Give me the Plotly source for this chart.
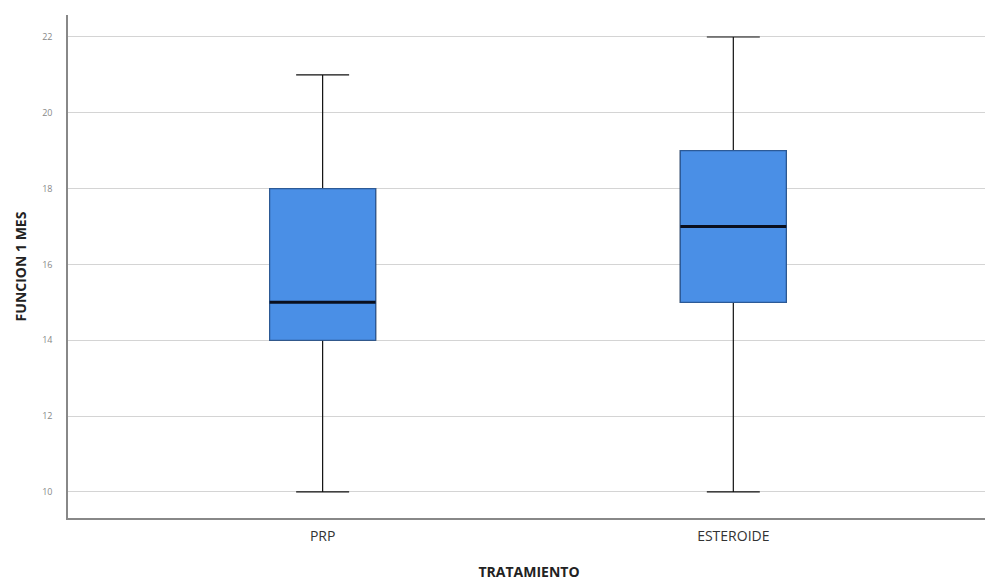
import plotly.graph_objects as go

categories = ["PRP", "ESTEROIDE"]
positions = [0, 1]
lower = [10, 10]
q1 = [14, 15]
median = [15, 17]
q3 = [18, 19]
upper = [21, 22]
y_ticks = [10, 12, 14, 16, 18, 20, 22]

box_w = 0.258

fig = go.Figure()

# whiskers (black)
fig.add_trace(go.Box(
    x=positions, q1=q1, median=median, q3=q3,
    lowerfence=lower, upperfence=upper,
    width=box_w, whiskerwidth=0.5,
    line=dict(color="#111111", width=1.2),
    fillcolor="rgba(0,0,0,0)", boxpoints=False, hoverinfo="skip",
    showlegend=False,
))
# box body (blue with dark blue outline)
fig.add_trace(go.Box(
    x=positions, q1=q1, median=median, q3=q3,
    lowerfence=q1, upperfence=q3,
    width=box_w, whiskerwidth=0,
    line=dict(color="#2c5a97", width=1.2),
    fillcolor="#4a8fe6", boxpoints=False,
    showlegend=False,
))
# median lines
for p, m in zip(positions, median):
    fig.add_trace(go.Scatter(
        x=[p - box_w / 2, p + box_w / 2], y=[m, m], mode="lines",
        line=dict(color="#0a0f1e", width=3), showlegend=False, hoverinfo="skip",
    ))

fig.update_layout(
    width=985, height=573,
    margin=dict(l=60, r=3, t=7, b=63, autoexpand=False),
    paper_bgcolor="white", plot_bgcolor="white",
    boxmode="overlay",
    font=dict(family="Open Sans, Lato, sans-serif", color="#333333"),
)
fig.update_xaxes(
    range=[-0.62, 1.625],
    tickvals=positions, ticktext=categories,
    tickfont=dict(size=14, color="#333333"),
    ticklabelstandoff=4,
    showgrid=False, zeroline=False,
    showline=True, linecolor="#888888", linewidth=1.5,
    ticks="", ticklen=0, automargin=False,
    title=dict(text="<b>TRATAMIENTO</b>", font=dict(size=14, color="#222222"), standoff=26),
)
fig.update_yaxes(
    range=[9.31, 22.58],
    tickvals=y_ticks,
    tickfont=dict(size=9, color="#888888"),
    ticklabelstandoff=12,
    showgrid=True, gridcolor="#d4d4d4", gridwidth=1,
    zeroline=False,
    showline=True, linecolor="#888888", linewidth=1.5,
    ticks="", ticklen=0, automargin=False,
    title=dict(text="<b>FUNCION 1 MES</b>", font=dict(size=14, color="#222222"), standoff=12),
)

fig.write_html("out.html")
